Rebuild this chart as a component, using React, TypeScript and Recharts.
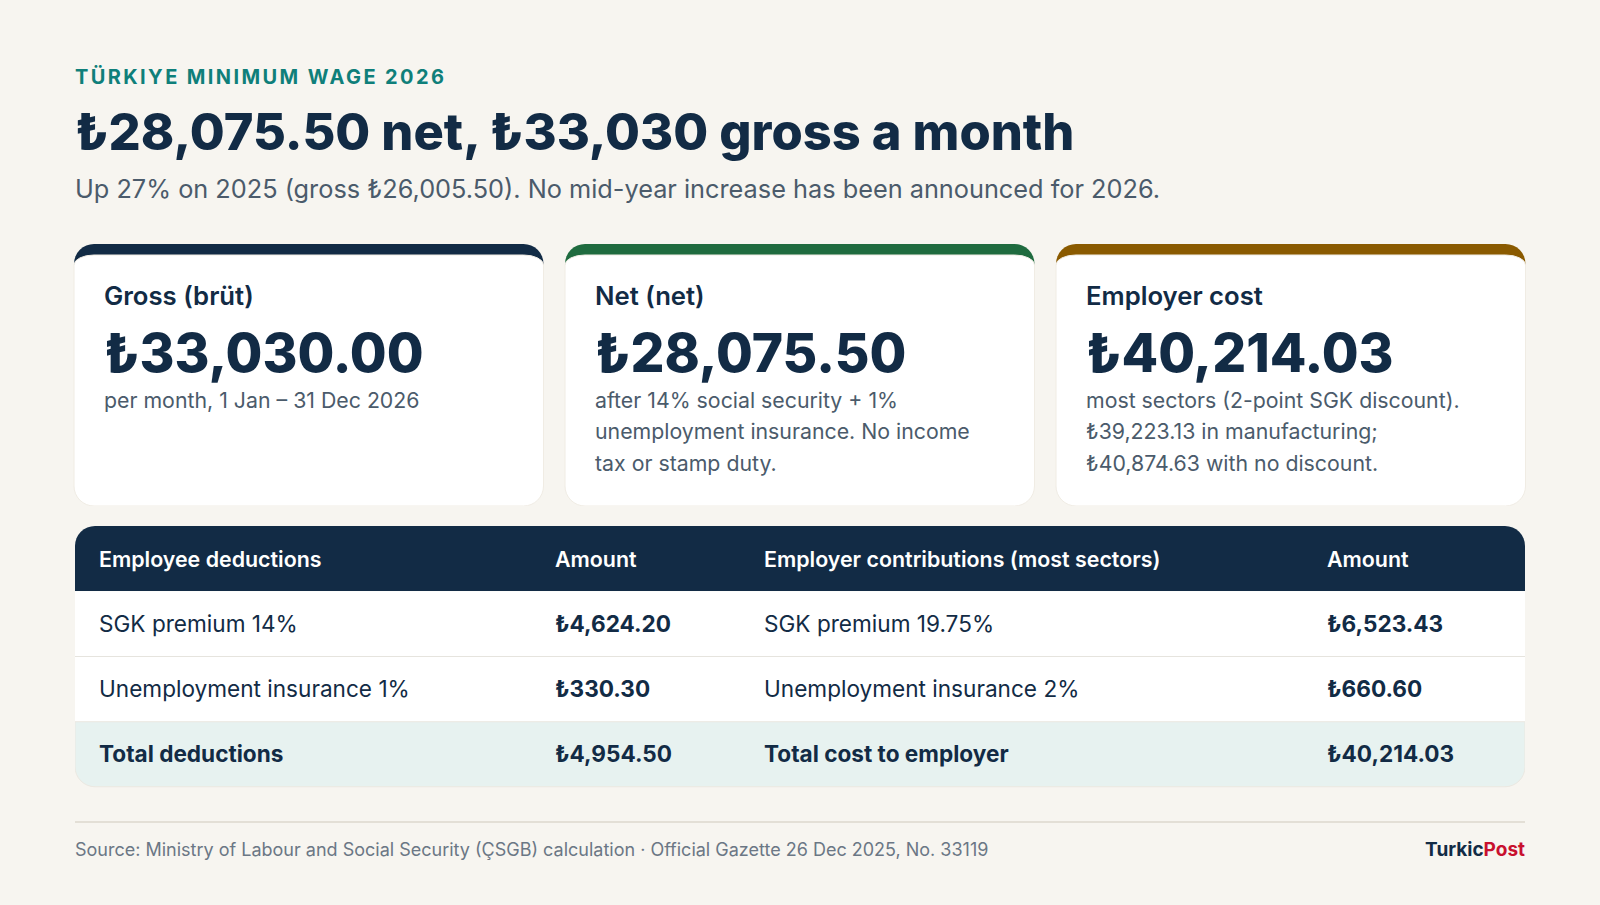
import { Bar, BarChart, XAxis, YAxis } from "recharts"

const FONT = "Inter, sans-serif"
const NAVY = "#122b45"
const SLATE = "#4b5b6b"

const cardTitles = ["Gross (brüt)", "Net (net)", "Employer cost"]
const cardAmounts = [33030, 28075.5, 40214.03]
const cardNotes = [
  ["per month, 1 Jan – 31 Dec 2026"],
  ["after 14% social security + 1%", "unemployment insurance. No income", "tax or stamp duty."],
  ["most sectors (2-point SGK discount).", "₺39,223.13 in manufacturing;", "₺40,874.63 with no discount."],
]
const cardAccents = ["#122b45", "#1f6b3f", "#8a5a00"]

const rowLabels = ["Employee deductions", "SGK premium 14%", "Unemployment insurance 1%", "Total deductions"]
const rowAmounts: (number | string)[] = ["Amount", 4624.2, 330.3, 4954.5]
const employerLabels = ["Employer contributions (most sectors)", "SGK premium 19.75%", "Unemployment insurance 2%", "Total cost to employer"]
const employerAmounts: (number | string)[] = ["Amount", 6523.43, 660.6, 40214.03]

const lira = (v: number) =>
  "₺" + v.toLocaleString("en-US", { minimumFractionDigits: 2, maximumFractionDigits: 2 })

const cardData = cardTitles.map((title, i) => ({
  title,
  amount: cardAmounts[i],
  notes: cardNotes[i],
  slot: 1,
}))

const tableData = rowLabels.map((label, i) => ({
  label,
  amount: rowAmounts[i],
  employer: employerLabels[i],
  employerAmount: employerAmounts[i],
  slot: 1,
}))

function CardShape(props: any) {
  const { x, y, width, height, payload, index } = props
  const r = 20
  const b = y + height
  return (
    <g fontFamily={FONT}>
      <rect x={x} y={y} width={width} height={60} rx={r} fill={cardAccents[index]} />
      <path
        d={`M${x} ${y + r + 1} A${r} 10 0 0 1 ${x + r} ${y + 11} H${x + width - r} A${r} 10 0 0 1 ${x + width} ${y + r + 1} V${b - r} A${r} ${r} 0 0 1 ${x + width - r} ${b} H${x + r} A${r} ${r} 0 0 1 ${x} ${b - r} Z`}
        fill="#ffffff"
        stroke="#f0ece4"
        strokeWidth={1}
      />
      <text x={x + 30} y={y + 61} fontSize={25.7} fontWeight={600} fill={NAVY}>
        {payload.title}
      </text>
      <text x={x + 30} y={y + 128} fontSize={53.3} fontWeight={800} fill={NAVY}>
        {lira(payload.amount)}
      </text>
      {payload.notes.map((line: string, i: number) => (
        <text key={i} x={x + 30} y={y + 164 + i * 31.3} fontSize={21.3} fill={SLATE}>
          {line}
        </text>
      ))}
    </g>
  )
}

function RowShape(props: any) {
  const { x, y, width, height, payload, index } = props
  const header = index === 0
  const total = index === 3
  const r = 20
  const b = y + height
  const right = x + width
  let d = `M${x} ${y} H${right} V${b} H${x} Z`
  if (header) d = `M${x} ${b} V${y + r} A${r} ${r} 0 0 1 ${x + r} ${y} H${right - r} A${r} ${r} 0 0 1 ${right} ${y + r} V${b} Z`
  if (total) d = `M${x} ${y} H${right} V${b - r} A${r} ${r} 0 0 1 ${right - r} ${b} H${x + r} A${r} ${r} 0 0 1 ${x} ${b - r} Z`
  const fill = header ? NAVY : total ? "#e7f2f0" : "#ffffff"
  const color = header ? "#ffffff" : NAVY
  const base = y + height / 2 + 8.2
  const labelWeight = header ? 600 : total ? 700 : 400
  const amountWeight = header ? 600 : 700
  const num = (v: number | string) => (typeof v === "number" ? lira(v) : v)
  return (
    <g fontFamily={FONT} fontSize={header ? 21.4 : 22.6} fill={color}>
      <path d={d} fill={fill} />
      {index === 2 && <line x1={x} x2={right} y1={y} y2={y} stroke="#e6e4de" strokeWidth={1} />}
      {total && <path d={d} fill="none" stroke="#ebe8e1" strokeWidth={1} />}
      <text x={x + 24} y={base} fontWeight={labelWeight}>{payload.label}</text>
      <text x={x + 480} y={base} fontWeight={amountWeight}>{num(payload.amount)}</text>
      <text x={x + 689} y={base} fontWeight={labelWeight}>{payload.employer}</text>
      <text x={x + 1252} y={base} fontWeight={amountWeight}>{num(payload.employerAmount)}</text>
    </g>
  )
}

export default function App() {
  return (
    <div
      style={{
        position: "absolute",
        left: 0,
        top: 0,
        width: 1600,
        height: 905,
        background: "#f7f5f0",
        fontFamily: FONT,
        overflow: "hidden",
      }}
    >
      <div style={{ position: "absolute", left: 75, top: 64, fontSize: 20, lineHeight: "26px", fontWeight: 700, letterSpacing: 2.4, color: "#0f7f7a" }}>
        TÜRKIYE MINIMUM WAGE 2026
      </div>
      <div style={{ position: "absolute", left: 75, top: 101, fontSize: 50.55, lineHeight: "62px", fontWeight: 800, color: NAVY, whiteSpace: "nowrap" }}>
        ₺28,075.50 net, ₺33,030 gross a month
      </div>
      <div style={{ position: "absolute", left: 75, top: 172, fontSize: 25.3, lineHeight: "34px", color: SLATE, whiteSpace: "nowrap" }}>
        Up 27% on 2025 (gross ₺26,005.50). No mid-year increase has been announced for 2026.
      </div>

      <div style={{ position: "absolute", left: 63, top: 244 }}>
        <BarChart width={1473} height={262} data={cardData} margin={{ top: 0, right: 0, bottom: 0, left: 0 }} barSize={469.5}>
          <XAxis dataKey="title" hide />
          <YAxis hide domain={[0, 1]} />
          <Bar dataKey="slot" isAnimationActive={false} shape={CardShape} />
        </BarChart>
      </div>

      <div style={{ position: "absolute", left: 75, top: 526 }}>
        <BarChart width={1450} height={262} data={tableData} layout="vertical" margin={{ top: 0, right: 0, bottom: 1, left: 0 }} barCategoryGap={0}>
          <XAxis type="number" hide domain={[0, 1]} />
          <YAxis type="category" dataKey="label" hide />
          <Bar dataKey="slot" isAnimationActive={false} shape={RowShape} />
        </BarChart>
      </div>

      <div style={{ position: "absolute", left: 75, top: 821, width: 1450, height: 2, background: "#e3dfd6" }} />
      <div style={{ position: "absolute", left: 75, top: 837, fontSize: 18, lineHeight: "26px", color: "#6b7785", whiteSpace: "nowrap" }}>
        Source: Ministry of Labour and Social Security (ÇSGB) calculation · Official Gazette 26 Dec 2025, No. 33119
      </div>
      <div style={{ position: "absolute", right: 75, top: 837, fontSize: 19, lineHeight: "26px", fontWeight: 700, color: NAVY }}>
        Turkic<span style={{ color: "#c8102e" }}>Post</span>
      </div>
    </div>
  )
}
